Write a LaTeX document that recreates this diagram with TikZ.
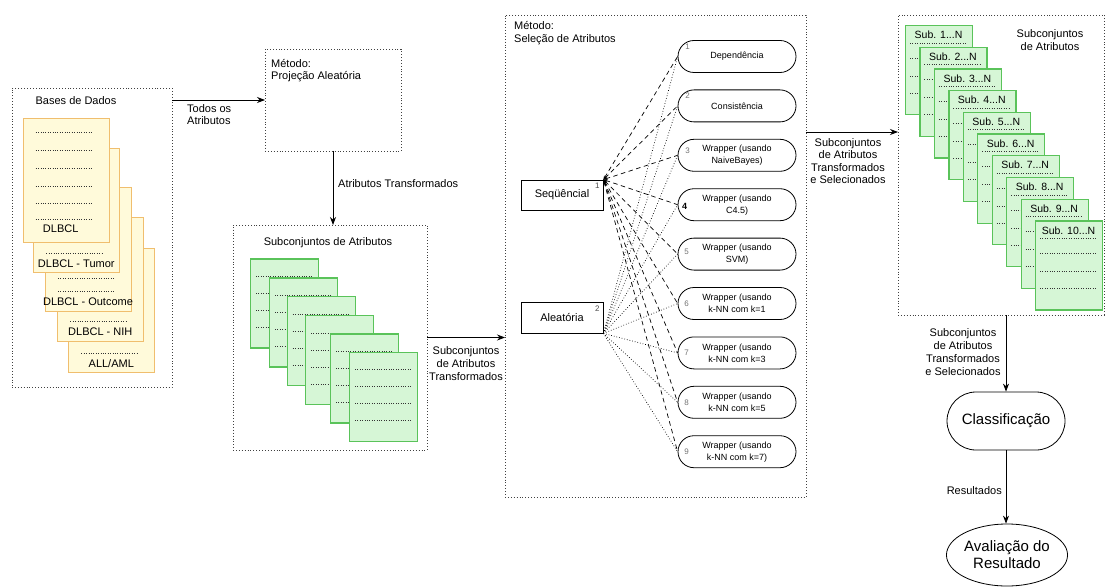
\documentclass[tikz,border=0pt]{standalone}
\usepackage{fontspec}
\setmainfont{Liberation Sans}
\usetikzlibrary{arrows.meta,shapes.misc,shapes.geometric}
\definecolor{ycfill}{RGB}{255,250,218}
\definecolor{ycdraw}{RGB}{240,190,110}
\definecolor{gcfill}{RGB}{214,246,214}
\definecolor{gcdraw}{RGB}{90,195,90}
\tikzset{
 grp/.style={draw=black!75, dotted, line width=0.9pt, inner sep=0pt, outer sep=0pt},
 arr/.style={-{Stealth[length=8pt,width=6pt]}, line width=0.8pt},
 ycardst/.style={draw=ycdraw, fill=ycfill, line width=1pt, inner sep=0pt, anchor=north west, minimum width=86pt, minimum height=124pt},
 gcardst/.style={draw=gcdraw, fill=gcfill, line width=1.2pt, inner sep=0pt, anchor=north west, minimum width=68pt, minimum height=89pt},
 scardst/.style={draw=gcdraw, fill=gcfill, line width=1.2pt, inner sep=0pt, anchor=north west, minimum width=67pt, minimum height=89pt},
 cdots/.style={black!80, line width=0.6pt, dash pattern=on 0.8pt off 1.6pt},
 lbl/.style={font=\fontsize{11}{13}\selectfont, inner sep=0pt, align=center},
 pill/.style={rounded rectangle, draw, line width=0.8pt, minimum width=118pt, minimum height=32pt, inner sep=0pt, font=\fontsize{9}{12}\selectfont, align=center},
 numl/.style={font=\fontsize{8}{8}\selectfont, text=black!55, inner sep=0pt},
 mbox/.style={draw, line width=0.8pt, minimum width=82pt, minimum height=30pt, inner sep=0pt, font=\fontsize{11}{13}\selectfont},
 seqln/.style={dash pattern=on 4.5pt off 3.5pt, line width=0.7pt, {Stealth[length=4pt,width=3pt]}-},
 aleln/.style={dotted, line width=0.7pt},
 bigpill/.style={rounded rectangle, draw, line width=0.8pt, minimum width=118pt, minimum height=58pt, inner sep=0pt, font=\fontsize{15}{17}\selectfont, align=center},
 bigell/.style={ellipse, draw, line width=0.8pt, minimum width=106pt, minimum height=62pt, inner sep=0pt, font=\fontsize{15}{17}\selectfont, align=center},
}
\newcommand\ycardB[4]{%
 \node[ycardst] (#3) at (#1,#2) {};
 \foreach \r in {92,105} \draw[cdots] ([xshift=13pt,yshift=-\r pt]#3.north west) -- ++(57pt,0pt);
 \node[lbl] at ([xshift=43pt,yshift=-115pt]#3.north west) {#4};
}
\newcommand\gcardB[3]{%
 \node[gcardst] (#3) at (#1,#2) {};
 \foreach \r in {18,35,52,69} \draw[cdots] ([xshift=6pt,yshift=-\r pt]#3.north west) -- ++(56pt,0pt);
}
\newcommand\scardB[4]{%
 \node[scardst] (#3) at (#1,#2) {};
 \node[font=\fontsize{10.5}{12}\selectfont, inner sep=0pt] at ([xshift=33.5pt,yshift=-10pt]#3.north west) {#4};
 \foreach \r in {18,33,51,68} \draw[cdots] ([xshift=5pt,yshift=-\r pt]#3.north west) -- ++(57pt,0pt);
}
\begin{document}
\begin{tikzpicture}[x=1pt,y=-1pt]
\useasboundingbox (0,0) rectangle (1107,588);
\fill[white] (0,0) rectangle (1107,588);

% ---------- group boxes ----------
\node[grp, minimum width=160pt, minimum height=299pt] (db) at (92,237.5) {};
\node[grp, minimum width=136pt, minimum height=102pt] (proj) at (333,100) {};
\node[grp, minimum width=194pt, minimum height=225pt] (sub) at (330,337.5) {};
\node[grp, minimum width=301pt, minimum height=482pt] (sel) at (655.5,256) {};
\node[grp, minimum width=206pt, minimum height=300pt] (rs) at (1001,165) {};

% ---------- databases ----------
\node[lbl] (dbt) at (76,101) {Bases de Dados};
\ycardB{68.3}{248.3}{y5}{ALL/AML}
\ycardB{57.3}{216.7}{y4}{DLBCL - NIH}
\ycardB{45}{186.7}{y3}{DLBCL - Outcome}
\ycardB{33.3}{148.3}{y2}{DLBCL - Tumor}
\node[ycardst] (y1) at (22.7,117.7) {};
\foreach \r in {15,33,51,69,86,102} \draw[cdots] ([xshift=13pt,yshift=-\r pt]y1.north west) -- ++(57pt,0pt);
\node[lbl] at ([xshift=38pt,yshift=-111pt]y1.north west) {DLBCL};

% ---------- projection ----------
\node[lbl, align=left, anchor=west] (projt) at (271,71) {Método:\\[-1pt]Projeção Aleatória};
\draw[arr] (db.east |- proj.west) -- (proj.west);
\node[lbl, align=left, anchor=west] (todos) at (187,115) {Todos os\\[-1pt]Atributos};
\draw[arr] (proj.south) -- (proj.south |- sub.north);
\node[lbl, anchor=west] (atr) at (338,184) {Atributos Transformados};

% ---------- transformed subsets ----------
\node[lbl] (subt) at (328,243) {Subconjuntos de Atributos};
\gcardB{250}{258.3}{g1}
\gcardB{269}{277.3}{g2}
\gcardB{286.7}{296}{g3}
\gcardB{305}{315}{g4}
\gcardB{330}{333.3}{g5}
\gcardB{349}{351.7}{g6}
\draw[arr] (sub.east) -- (sel.west |- sub.east);
\node[lbl] (subl) at (466,364) {Subconjuntos\\de Atributos\\Transformados};

% ---------- selection ----------
\node[lbl, align=left, anchor=west] (selt) at (514,33.5) {Método:\\Seleção de Atributos};
\node[mbox] (seq) at (562,195) {Seqüêncial};
\node[mbox, minimum height=31pt] (ale) at (562,317.5) {Aleatória};
\node[numl, text=black!70] at ([xshift=-6pt,yshift=-6pt]seq.north east) {1};
\node[numl, text=black!70] at ([xshift=-6pt,yshift=-7pt]ale.north east) {2};

\node[pill] (p1) at (737,56.5) {Dependência};
\node[pill] (p2) at (737,105.9) {Consistência};
\node[pill] (p3) at (737,155.3) {Wrapper (usando\\NaiveBayes)};
\node[pill] (p4) at (737,204.7) {Wrapper (usando\\C4.5)};
\node[pill] (p5) at (737,254.1) {Wrapper (usando\\SVM)};
\node[pill] (p6) at (737,303.5) {Wrapper (usando\\k-NN com k=1};
\node[pill] (p7) at (737,352.9) {Wrapper (usando\\k-NN com k=3};
\node[pill] (p8) at (737,402.3) {Wrapper (usando\\k-NN com k=5};
\node[pill] (p9) at (737,451.7) {Wrapper (usando\\k-NN com k=7)};

\node[numl] at ([xshift=10pt,yshift=10pt]p1.west) {1};
\node[numl] at ([xshift=10pt,yshift=10pt]p2.west) {2};
\node[numl] at ([xshift=10pt,yshift=5pt]p3.west) {3};
\node[numl, text=black, font=\fontsize{9}{9}\selectfont\bfseries] at ([xshift=7pt,yshift=-2pt]p4.west) {4};
\node[numl] at ([xshift=9pt,yshift=2pt]p5.west) {5};
\foreach \i in {6,7,8,9} \node[numl] at ([xshift=9pt]p\i.west) {\i};

\foreach \i in {1,...,9} {
  \draw[seqln] (seq.north east) -- (p\i.west);
  \draw[aleln] (ale.south east) -- (p\i.west);
}

% ---------- selected subsets ----------
\coordinate (a3) at (806,132);
\draw[arr] (a3) -- (a3 -| rs.west);
\node[lbl, font=\fontsize{11}{12.5}\selectfont] (sell) at (848,161) {Subconjuntos\\de Atributos\\Transformados\\e Selecionados};
\scardB{905}{25}{s1}{Sub. 1...N}
\scardB{919.4}{46.7}{s2}{Sub. 2...N}
\scardB{933.9}{68.4}{s3}{Sub. 3...N}
\scardB{948.3}{90.1}{s4}{Sub. 4...N}
\scardB{962.8}{111.8}{s5}{Sub. 5...N}
\scardB{977.2}{133.5}{s6}{Sub. 6...N}
\scardB{991.7}{155.2}{s7}{Sub. 7...N}
\scardB{1006.1}{176.9}{s8}{Sub. 8...N}
\scardB{1020.6}{198.6}{s9}{Sub. 9...N}
\scardB{1035}{220.3}{s10}{Sub. 10...N}
\node[lbl] (rst) at (1050,40) {Subconjuntos\\de Atributos};

% ---------- classification ----------
\node[bigpill] (cls) at (1006,421) {Classificação};
\node[bigell] (ev) at (1007,555) {Avaliação do\\Resultado};
\draw[arr] (cls.north |- rs.south) -- (cls.north);
\node[lbl] (cl) at (963,352) {Subconjuntos\\de Atributos\\Transformados\\e Selecionados};
\draw[arr] (cls.south) -- (cls.south |- ev.north);
\node[lbl, anchor=east] (res) at (1002,491) {Resultados};
\end{tikzpicture}
\end{document}
